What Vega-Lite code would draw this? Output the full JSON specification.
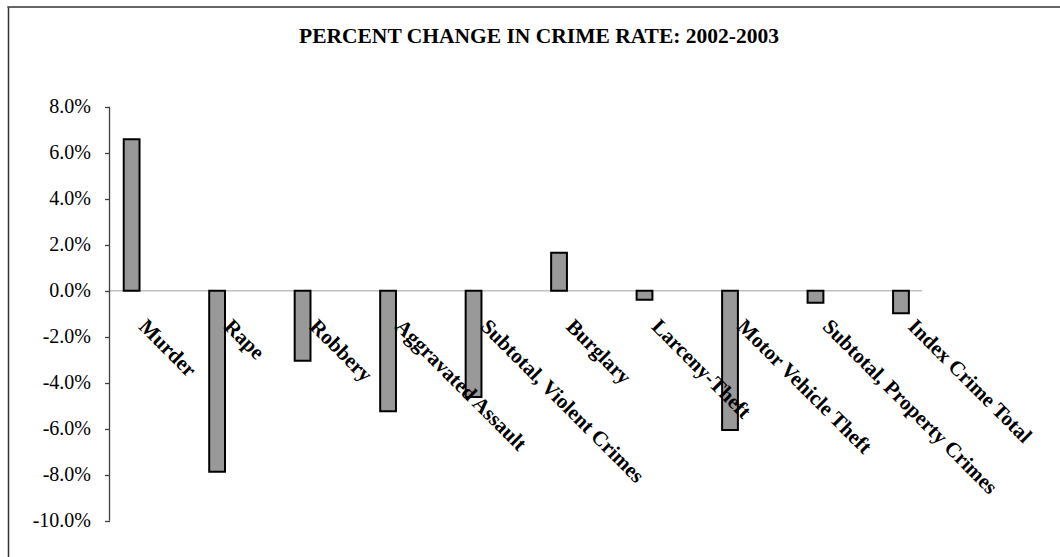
{
  "$schema": "https://vega.github.io/schema/vega-lite/v6.json",
  "autosize": {"type": "none"},
  "padding": {"left": 8, "top": 7, "right": 0, "bottom": 0},
  "width": 1052,
  "height": 550,
  "title": {
    "text": "PERCENT CHANGE IN CRIME RATE: 2002-2003",
    "font": "Liberation Serif",
    "fontSize": 21.5,
    "fontWeight": "bold",
    "color": "black",
    "anchor": "middle",
    "frame": "group",
    "baseline": "alphabetic",
    "offset": -58,
    "dx": 5
  },
  "data": {
    "values": [
      {"category": "Murder", "change": 0.0658},
      {"category": "Rape", "change": -0.0787},
      {"category": "Robbery", "change": -0.0304},
      {"category": "Aggravated Assault", "change": -0.0524},
      {"category": "Subtotal, Violent Crimes", "change": -0.0462},
      {"category": "Burglary", "change": 0.0165},
      {"category": "Larceny-Theft", "change": -0.0039},
      {"category": "Motor Vehicle Theft", "change": -0.0606},
      {"category": "Subtotal, Property Crimes", "change": -0.0052},
      {"category": "Index Crime Total", "change": -0.0098}
    ]
  },
  "resolve": {"axis": {"y": "independent"}},
  "layer": [
    {
      "data": {"values": [{"category": "Murder", "category2": "Index Crime Total"}]},
      "mark": {"type": "rule", "color": "#333333", "strokeWidth": 1.5},
      "encoding": {
        "x": {"field": "category", "type": "nominal", "bandPosition": -7.37, "axis": null},
        "x2": {"field": "category2", "bandPosition": 10.7},
        "y": {
          "datum": 0.12335,
          "type": "quantitative",
          "axis": {
            "orient": "left",
            "offset": 0,
            "title": null,
            "labels": false,
            "ticks": false,
            "grid": false,
            "domain": true,
            "domainColor": "#333333",
            "domainWidth": 1.5
          }
        }
      }
    },
    {
      "data": {"values": [{"category": "Murder", "category2": "Index Crime Total"}]},
      "mark": {"type": "rule", "color": "#c0c0c0", "strokeWidth": 1.5},
      "encoding": {
        "x": {"field": "category", "type": "nominal", "bandPosition": -0.9, "axis": null},
        "x2": {"field": "category2", "bandPosition": 1.84},
        "y": {"datum": 0, "type": "quantitative", "axis": null}
      }
    },
    {
      "mark": {"type": "bar", "fill": "#999999", "stroke": "black", "strokeWidth": 2},
      "encoding": {
        "x": {
          "field": "category",
          "type": "nominal",
          "sort": null,
          "axis": null,
          "scale": {
            "domain": ["Murder", "Rape", "Robbery", "Aggravated Assault", "Subtotal, Violent Crimes", "Burglary", "Larceny-Theft", "Motor Vehicle Theft", "Subtotal, Property Crimes", "Index Crime Total"],
            "range": [101.5, 914],
            "paddingInner": 0.8152,
            "paddingOuter": 0.16,
            "align": 0.52
          }
        },
        "y": {
          "field": "change",
          "type": "quantitative",
          "scale": {"domain": [-0.11578, 0.12335], "nice": false, "zero": false},
          "axis": {
            "orient": "left",
            "offset": -101.5,
            "title": null,
            "values": [-0.1, -0.08, -0.06, -0.04, -0.02, 0, 0.02, 0.04, 0.06, 0.08],
            "format": ".1%",
            "labelExpr": "replace(datum.label, '\u2212', '-')",
            "domain": false,
            "grid": false,
            "ticks": true,
            "tickSize": 5,
            "tickColor": "#404040",
            "tickWidth": 1.3,
            "labelFont": "Liberation Serif",
            "labelFontSize": 20,
            "labelColor": "black",
            "labelPadding": 14
          }
        },
        "y2": {"datum": 0}
      }
    },
    {
      "data": {"values": [{"category": "Murder"}]},
      "mark": {"type": "rule", "color": "#404040", "strokeWidth": 1.3},
      "encoding": {
        "x": {"field": "category", "type": "nominal", "bandPosition": -0.9, "axis": null},
        "y": {"datum": -0.1, "type": "quantitative", "axis": null},
        "y2": {"datum": 0.08}
      }
    },
    {
      "mark": {
        "type": "text",
        "angle": 45,
        "align": "left",
        "baseline": "alphabetic",
        "dx": 30.4,
        "dy": 21.9,
        "font": "Liberation Serif",
        "fontSize": 21,
        "fontWeight": "bold",
        "color": "black"
      },
      "encoding": {
        "x": {"field": "category", "type": "nominal", "axis": null},
        "y": {"datum": 0, "type": "quantitative", "axis": null},
        "text": {"field": "category"}
      }
    }
  ],
  "config": {
    "view": {"stroke": null}
  }
}
